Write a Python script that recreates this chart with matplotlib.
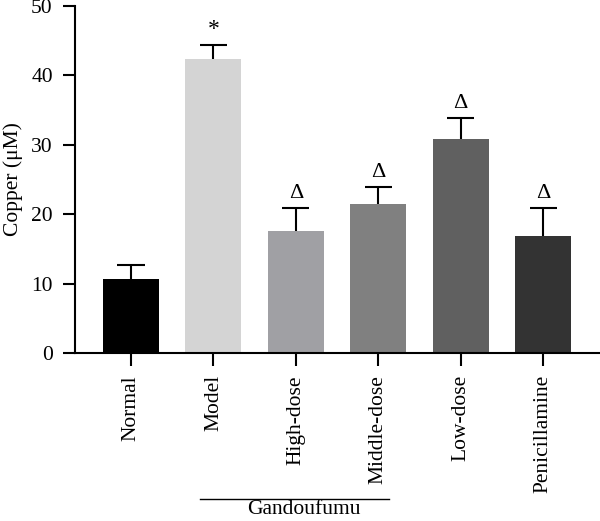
import matplotlib
matplotlib.use("Agg")
import matplotlib.pyplot as plt
import numpy as np

plt.rcParams['font.family'] = ['Liberation Serif', 'DejaVu Serif']

groups = ["Normal", "Model", "High-dose", "Middle-dose", "Low-dose", "Penicillamine"]
means = [10.6, 42.3, 17.6, 21.4, 30.9, 16.9]
errors = [2.1, 2.1, 3.3, 2.5, 3.0, 4.0]
marks = ["", "*", "Δ", "Δ", "Δ", "Δ"]
colors = ["#000000", "#d4d4d4", "#a0a0a4", "#808080", "#606060", "#333333"]
yticks = [0, 10, 20, 30, 40, 50]

fig = plt.figure(figsize=(6.0, 5.21), dpi=100)
ax = fig.add_axes([0.125, 0.3225, 0.875, 0.666])

x = np.arange(len(groups))
tops = np.array(means) + np.array(errors)
ax.bar(x, means, width=0.68, color=colors, zorder=2)
# upper-only error bars
ax.vlines(x, means, tops, color="black", lw=1.5, zorder=3)
ax.hlines(tops, x - 0.165, x + 0.165, color="black", lw=1.5, zorder=3)

for xi, t, mk in zip(x, tops, marks):
    if mk:
        ax.text(xi, t + 0.7, mk, ha="center", va="bottom",
                fontsize=17 if mk == "*" else 16)

ax.set_xlim(-0.68, 5.69)
ax.set_ylim(0, 50)
ax.set_yticks(yticks)
ax.set_xticks(x)
ax.set_xticklabels(groups, rotation=90, fontsize=15.5)
ax.tick_params(axis="y", labelsize=15.5, length=9, width=1.5, direction="out", pad=7)
ax.tick_params(axis="x", length=9, width=1.5, direction="out", pad=7)
ax.set_ylabel("Copper (μM)", fontsize=15.5, labelpad=6)

for s in ["top", "right"]:
    ax.spines[s].set_visible(False)
ax.spines["left"].set_linewidth(1.5)
ax.spines["bottom"].set_linewidth(1.5)

# bracket under the Gandoufumu groups
ax.plot([0.84, 3.13], [-0.42, -0.42], color="black", lw=1.0,
        transform=ax.get_xaxis_transform(), clip_on=False)
ax.text(2.1, -0.463, "Gandoufumu", ha="center", va="baseline", fontsize=15.5,
        transform=ax.get_xaxis_transform())

fig.savefig("out.png", dpi=100)
